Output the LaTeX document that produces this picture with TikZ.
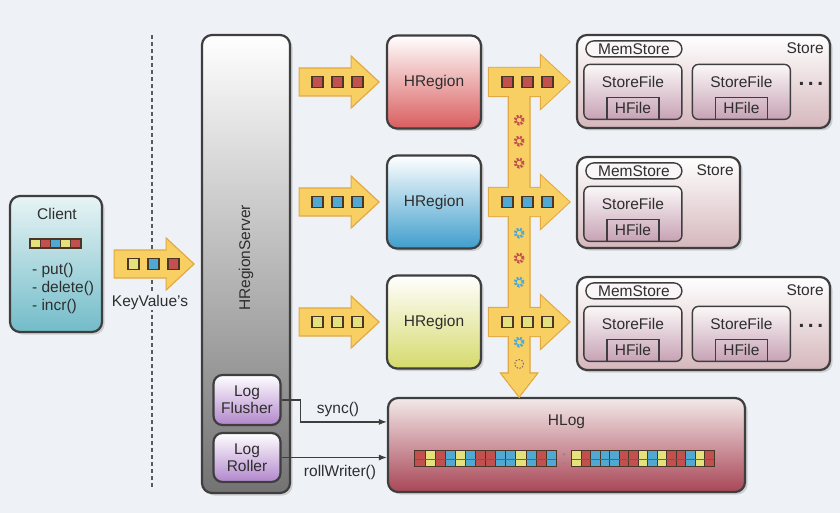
\documentclass[tikz,border=0pt]{standalone}
\usepackage{fontspec}
\setmainfont{Liberation Sans}
\usepackage{xcolor}
\usetikzlibrary{calc, shadows, arrows.meta, positioning}

\definecolor{bgcol}{HTML}{EEF1F6}
\definecolor{boxline}{HTML}{3E3E3E}
\definecolor{txt}{HTML}{2E2E2E}
\definecolor{arrfill}{HTML}{F8CF63}
\definecolor{arredge}{HTML}{E2A944}
\definecolor{kvred}{HTML}{C2504E}
\definecolor{kvblue}{HTML}{4FA9D2}
\definecolor{kvyellow}{HTML}{E4E27C}
\definecolor{kvedge}{HTML}{4A3526}
\definecolor{clienttop}{HTML}{E8F4F5}
\definecolor{clientbot}{HTML}{72BCC9}
\definecolor{regred}{HTML}{D95D5E}
\definecolor{regblue}{HTML}{3F9ECC}
\definecolor{regyel}{HTML}{D5DA6B}
\definecolor{logbot}{HTML}{B286CC}
\definecolor{storebot}{HTML}{D5B7BC}
\definecolor{sfbot}{HTML}{C7A2B4}
\definecolor{hlogtop}{HTML}{F3E9E9}
\definecolor{hlogbot}{HTML}{A84656}

\tikzset{
  box/.style={draw=boxline, line width=2.2, rounded corners=10,
    drop shadow={opacity=0.3, shadow xshift=2.5pt, shadow yshift=-2.5pt}},
  inbox/.style={draw=boxline, line width=1.4, rounded corners=6},
  arr/.style={fill=arrfill, draw=arredge, line width=1.2},
  arrT/.style={fill=arrfill, draw=arredge, line width=2.4},
  arrin/.style={fill=arrfill},
  kv/.style={draw=kvedge, line width=1.8, fill=#1, minimum size=11, inner sep=0},
  cell/.style={draw=kvedge, line width=1, fill=#1},
  flower/.style={circle, draw=#1, line width=3, dash pattern=on 2pt off 1.3pt,
    minimum size=8, inner sep=0},
  mem/.style={inbox, rounded corners=8, fill=white!60!storebot!30, minimum width=96,
    minimum height=16, inner sep=0},
  sfile/.style={inbox, top color=white!90!storebot, bottom color=sfbot,
    minimum width=98, minimum height=55},
  hfile/.style={draw=boxline, line width=1.4, minimum width=52, minimum height=22, inner sep=0},
  divider/.style={draw=boxline!85, line width=1.6, dash pattern=on 4pt off 3pt},
  conn/.style={-{Latex[length=8pt,width=6pt]}, draw=boxline, line width=1.2},
}

% yellow block arrow: [style]{start}{length}
\newcommand{\kvarrow}[3][arr]{\path[#1] #2 ++(0,-14) -- ++(#3-28,0) -- ++(0,-12)
  -- ++(28,26) -- ++(-28,26) -- ++(0,-12) -- ++(-#3+28,0) -- cycle;}
% vertical bus down to the log
\newcommand{\busshape}[1][arr]{\path[#1] ($(bustop)+(-10,0)$) -- ($(busend)+(-10,-23)$)
  -- ($(busend)+(-17,-23)$) -- ($(busend)+(0,-1)$) -- ($(busend)+(17,-23)$)
  -- ($(busend)+(10,-23)$) -- ($(bustop)+(10,0)$) -- cycle;}
% store file with its hfile
\newcommand{\storefile}[2]{%
  \node[sfile] (#1) at #2 {};
  \node (#1txt) at ($(#1.north)+(0,18)$) {StoreFile};
  \node[hfile, anchor=south] (#1hf) at (#1.south) {HFile};
}

\begin{document}
\begin{tikzpicture}[x=1pt, y=-1pt, font=\fontsize{15.5}{18}\selectfont, text=txt]
  \useasboundingbox (0,0) rectangle (840,513);
  \fill[bgcol] (0,0) rectangle (840,513);

  % client side
  \coordinate (septop) at (152,35);
  \coordinate (sepbot) at (152,487);
  \draw[divider] (septop) -- (sepbot);

  \node[box, top color=clienttop, bottom color=clientbot, minimum width=92, minimum height=136] (client) at (56,264) {};
  \node (clienttxt) at ($(client.north)+(1,19)$) {Client};
  \foreach \c [count=\i from 0] in {kvyellow,kvred,kvblue,kvyellow,kvred}
    \filldraw[cell=\c, line width=1.2] ($(client.north west)+(21+10.2*\i,44)$) rectangle ++(10.2,9);
  \node[anchor=west, align=left, inner sep=0] (ops) at ($(client.west)+(23,24)$) {- put()\\- delete()\\- incr()};

  % region server
  \node[box, top color=white, middle color=black!20, bottom color=black!55, minimum width=88, minimum height=458] (srv) at (246,264) {};
  \node[rotate=90] (srvtxt) at (246,258) {HRegionServer};
  \node[box, rounded corners=9, top color=white, bottom color=logbot, minimum width=67, minimum height=50, align=center, inner sep=0] (flush) at (247,400) {Log\\[-1pt]Flusher};
  \node[box, rounded corners=9, top color=white, bottom color=logbot, minimum width=67, minimum height=49, align=center, inner sep=0] (roller) at (247,457.5) {Log\\[-1pt]Roller};

  % regions
  \node[box, top color=white, bottom color=regred, minimum width=94, minimum height=93] (reg1) at (434,82) {HRegion};
  \node[box, top color=white, bottom color=regblue, minimum width=94, minimum height=93] (reg2) at (434,202) {HRegion};
  \node[box, top color=white, bottom color=regyel, minimum width=94, minimum height=93] (reg3) at (434,322) {HRegion};

  % stores
  \node[box, top color=white, bottom color=storebot, minimum width=253, minimum height=93] (store1) at (703.5,81.5) {};
  \node[box, top color=white, bottom color=storebot, minimum width=163, minimum height=91] (store2) at (658.5,202.5) {};
  \node[box, top color=white, bottom color=storebot, minimum width=253, minimum height=93] (store3) at (703.5,323.5) {};
  \foreach \s in {store1,store2,store3} {
    \node[mem] (\s mem) at ($(\s.north west)+(58,15)$) {MemStore};
    \node (\s txt) at ($(\s.north east)+(-26,14)$) {Store};
    \storefile{\s a}{($(\s.north west)+(57,58)$)}
  }
  \foreach \s in {store1,store3} {
    \storefile{\s b}{($(\s.north west)+(165.5,58)$)}
    \node[font=\fontsize{21}{22}\selectfont\bfseries] (\s dots) at ($(\s.north west)+(235,50)$) {.\,.\,.};
  }

  % log
  \node[box, top color=hlogtop, bottom color=hlogbot, minimum width=357, minimum height=94] (hlog) at (566.5,445) {};
  \node (hlogtxt) at ($(hlog.north)+(0,25)$) {HLog};
  \foreach \c [count=\i from 0] in {kvred,kvyellow,kvred,kvblue,kvyellow,kvblue,kvred,kvred,kvblue,kvblue,kvyellow,kvblue,kvred,kvblue}
    \filldraw[cell=\c] ($(hlog.north west)+(28+10.1*\i,54)$) rectangle ++(10.1,16);
  \foreach \c [count=\i from 0] in {kvyellow,kvred,kvblue,kvblue,kvblue,kvred,kvred,kvyellow,kvblue,kvyellow,kvred,kvred,kvblue,kvyellow,kvred}
    \filldraw[cell=\c] ($(hlog.north west)+(185+9.5*\i,54)$) rectangle ++(9.5,16);
  \draw[kvedge!80, line width=0.6] ($(hlog.north west)+(28,62)$) -- ++(141.4,0);
  \draw[kvedge!80, line width=0.6] ($(hlog.north west)+(185,62)$) -- ++(142.5,0);
  \fill[kvedge!60] ($(hlog.north west)+(177,57.5)$) circle (1.4pt) ($(hlog.north west)+(177,66.5)$) circle (1.4pt);

  % key values into the server
  \kvarrow{($(client.east)+(11,0)$)}{80}
  \foreach \c [count=\i from 0] in {kvyellow,kvblue,kvred}
    \node[kv=\c] (kvc\i) at ($(client.east)+(30+20*\i,0)$) {};
  \node[fill=bgcol, inner sep=1] (kvlabel) at (150,302) {KeyValue's};

  % server to regions
  \foreach \r/\c in {1/kvred,2/kvblue,3/kvyellow} {
    \kvarrow{($(srv.east |- reg\r.west)+(8,0)$)}{80}
    \foreach \i in {0,1,2}
      \node[kv=\c] (in\r\i) at ($(srv.east |- reg\r.west)+(26+20*\i,0)$) {};
  }

  % regions to stores and log
  \coordinate (bustop) at ($(reg1.east)+(37,0)$);
  \coordinate (busend) at (bustop |- hlog.north);
  \foreach \r in {1,2,3} \kvarrow[arrT]{($(reg\r.east)+(7,0)$)}{80}
  \busshape[arrT]
  \foreach \r in {1,2,3} \kvarrow[arrin]{($(reg\r.east)+(7,0)$)}{80}
  \busshape[arrin]
  \foreach \r/\c in {1/kvred,2/kvblue,3/kvyellow}
    \foreach \i in {0,1,2}
      \node[kv=\c] (out\r\i) at ($(reg\r.east)+(25+20*\i,0)$) {};
  \foreach \d/\c in {38/kvred,59/kvred,81/kvred,151/kvblue,176/kvred,200/kvblue,260/kvblue}
    \node[flower=\c] (fl\d) at ($(bustop)+(0,\d)$) {};
  \node[circle, draw=kvedge!70, dash pattern=on 1.5pt off 1.5pt, line width=1, minimum size=9, inner sep=0] (flend) at ($(bustop)+(0,282)$) {};

  % log writers
  \draw[conn] (flush.east) -- ++(19,0) |- ($(hlog.north west)!0.26!(hlog.south west)$);
  \node (synctxt) at (338,409) {sync()};
  \draw[conn] (roller.east) -- (roller.east -| hlog.west);
  \node (rolltxt) at (340,472) {rollWriter()};
\end{tikzpicture}
\end{document}
